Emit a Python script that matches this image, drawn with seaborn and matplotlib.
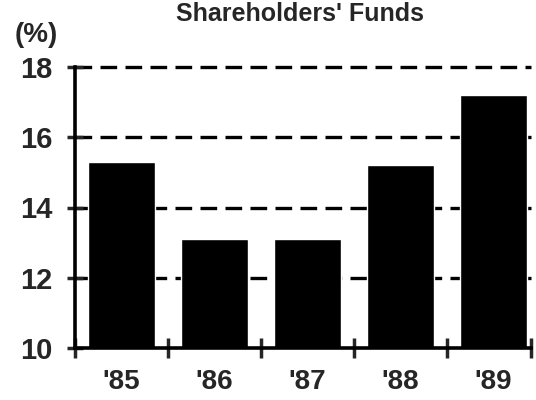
import matplotlib
matplotlib.use("Agg")
import matplotlib.pyplot as plt
import seaborn as sns
import pandas as pd

years = ["'85", "'86", "'87", "'88", "'89"]
values = [15.3, 13.1, 13.1, 15.2, 17.2]
y_ticks = [10, 12, 14, 16, 18]

df = pd.DataFrame({"year": years, "value": values})

sns.set_style("white")
plt.rcParams['font.family'] = ['Liberation Sans', 'DejaVu Sans']
plt.rcParams['font.weight'] = 'bold'

fig = plt.figure(figsize=(5.36, 4.0), dpi=100)
ax = fig.add_axes([0.14, 0.13, 0.85, 0.7025])

# dashed grid behind the bars (top line not clipped by the axes edge)
for t in y_ticks[1:]:
    ax.axhline(t, color='black', lw=2.4, ls=(0, (5, 2.5)), zorder=0, clip_on=False)

sns.barplot(data=df, x="year", y="value", color='black', width=0.73,
            saturation=1, ax=ax, zorder=2)

ax.set_ylim(10, 18)
ax.set_xlim(-0.5, 4.4)
ax.set_yticks(y_ticks)
ax.set_yticklabels([str(t) for t in y_ticks], fontsize=21, fontweight='bold')
ax.set_xticks([i - 0.5 for i in range(len(years))] + [4.4], minor=False)
ax.set_xticklabels([])
ax.set_xticks(range(len(years)), minor=True)
ax.set_xticklabels(years, minor=True, fontsize=20, fontweight='bold')
ax.tick_params(axis='x', which='major', bottom=True, direction='inout',
               length=14, width=2.5)
ax.tick_params(axis='x', which='minor', bottom=True, length=0, pad=15)
ax.tick_params(axis='y', left=True, direction='inout', length=11, width=2.5, pad=11)
ax.set_xlabel("")
ax.set_ylabel("")

for s in ['top', 'right']:
    ax.spines[s].set_visible(False)
for s in ['left', 'bottom']:
    ax.spines[s].set_linewidth(2.6)
    ax.spines[s].set_color('black')

fig.text(0.56, 0.948, "Shareholders' Funds", ha='center', va='baseline',
         fontsize=18, fontweight='bold')
fig.text(0.028, 0.912, "(%)", ha='left', va='center', fontsize=20, fontweight='bold')

plt.savefig("out.png", dpi=100)
